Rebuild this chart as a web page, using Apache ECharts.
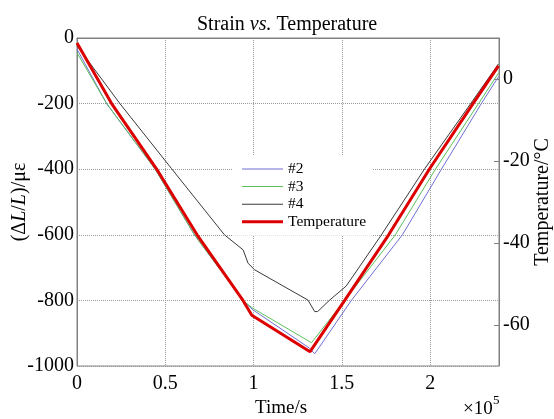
<!DOCTYPE html>
<html>
<head>
<meta charset="utf-8">
<script src="https://cdn.jsdelivr.net/npm/echarts@6/dist/echarts.min.js"></script>
<style>html,body{margin:0;padding:0;background:#fff}#c{width:554px;height:419px}</style>
</head>
<body>
<div id="c"></div>
<script>
// Time in seconds, strain in με, temperature in °C
var seriesNames = ['#2', '#3', '#4', 'Temperature'];

var time2 = [0, 16800, 44300, 66500, 94000, 99700, 131800, 134600, 155400, 184300, 206400, 229000, 238700];
var strain2 = [-34, -200, -400, -600, -800, -829, -946, -963, -800, -600, -400, -200, -118];

var time3 = [0, 16800, 44300, 66500, 94000, 99000, 132800, 151600, 180300, 203000, 227400, 238700];
var strain3 = [-45, -200, -400, -600, -800, -822, -929, -800, -600, -400, -200, -107];

var time4 = [0, 24300, 53500, 83500, 94100, 96900, 100700, 130800, 134600, 136300, 143100, 152500, 172300, 197000, 224000, 238700];
var strain4 = [-24, -200, -398, -600, -646, -687, -707, -799, -834, -834, -799, -756, -601, -398, -192, -79];

var timeT = [0, 19600, 45000, 68000, 94000, 99000, 132000, 151600, 176500, 199700, 224300, 238700];
var tempT = [8.8, -6.0, -21.9, -38.0, -54.0, -57.6, -66.5, -54.0, -38.0, -21.9, -6.0, 3.2];

var rightTicks = [-60, -40, -20, 0];

function pairs(t, v) { return t.map(function (x, i) { return [x, v[i]]; }); }

var FONT = 'Liberation Serif';
var colors = ['#6f6fd6', '#5cbf5c', '#3a3a3a', '#dd0000'];
var widths = [1, 1, 1, 3];

var chart = echarts.init(document.getElementById('c'), null, { renderer: 'canvas' });
chart.setOption({
  animation: false,
  backgroundColor: '#fff',
  textStyle: { fontFamily: FONT },
  title: {
    text: 'Strain {i|vs.} Temperature',
    left: 192, top: 10,
    textStyle: {
      fontFamily: FONT, fontSize: 20, fontWeight: 'normal', color: '#000',
      rich: { i: { fontFamily: FONT, fontSize: 20, fontStyle: 'italic', color: '#000' } }
    }
  },
  grid: { left: 77, right: 55, top: 38, bottom: 53, containLabel: false, outerBoundsMode: 'none',
    show: true, borderColor: '#808080', borderWidth: 1, backgroundColor: 'transparent' },
  legend: {
    orient: 'vertical', left: 233, top: 155,
    padding: [6, 6, 6, 9], itemGap: 1.6, itemWidth: 41, itemHeight: 18,
    backgroundColor: '#fff',
    data: seriesNames.map(function (n, i) {
      return { name: n, icon: 'path://M0,0H41V' + widths[i] + 'H0Z', itemStyle: { color: colors[i] } };
    }),
    textStyle: { fontFamily: FONT, fontSize: 15.5, color: '#000' }
  },
  xAxis: {
    type: 'value', min: 0, max: 239000, interval: 50000,
    name: 'Time/s', nameLocation: 'middle', nameGap: 33, nameMoveOverlap: false,
    nameTextStyle: { fontFamily: FONT, fontSize: 19, color: '#000', padding: [0, 14, 0, 0] },
    axisLine: { show: true, lineStyle: { color: '#808080' } },
    axisTick: { show: false },
    axisLabel: {
      fontFamily: FONT, fontSize: 20, color: '#000', margin: 8, showMaxLabel: false,
      formatter: function (v) { return String(v / 100000); }
    },
    splitLine: { show: true, lineStyle: { type: 'dotted', color: '#9a9a9a', width: 1 } }
  },
  yAxis: [{
    type: 'value', min: -1000, max: 0, interval: 200, position: 'left',
    name: '(Δ{i|L}/{i|L})/με', nameLocation: 'middle', nameGap: 47, nameMoveOverlap: false,
    nameTextStyle: {
      fontFamily: FONT, fontSize: 20, color: '#000',
      rich: { i: { fontFamily: FONT, fontSize: 20, fontStyle: 'italic', color: '#000' } }
    },
    axisLine: { show: true, lineStyle: { color: '#808080' } },
    axisTick: { show: false },
    axisLabel: { fontFamily: FONT, fontSize: 20, color: '#000', margin: 3,
      formatter: function (v) { return String(v); } },
    splitLine: { show: true, lineStyle: { type: 'dotted', color: '#9a9a9a', width: 1 } }
  }, {
    type: 'value', min: -70, max: 10, interval: 10, position: 'right',
    name: 'Temperature/°C', nameLocation: 'middle', nameGap: 34, nameMoveOverlap: false,
    nameTextStyle: { fontFamily: FONT, fontSize: 20, color: '#000' },
    axisLine: { show: true, lineStyle: { color: '#808080' } },
    axisTick: { show: true, inside: true, length: 5, customValues: rightTicks, lineStyle: { color: '#808080' } },
    axisLabel: { fontFamily: FONT, fontSize: 20, color: '#000', margin: 4, customValues: rightTicks,
      formatter: function (v) { return String(v); } },
    splitLine: { show: false }
  }],
  series: seriesNames.map(function (n, i) {
    var d = [pairs(time2, strain2), pairs(time3, strain3), pairs(time4, strain4), pairs(timeT, tempT)][i];
    return {
      name: n, type: 'line', yAxisIndex: i === 3 ? 1 : 0, symbol: 'none', data: d,
      lineStyle: { color: colors[i], width: widths[i] }, itemStyle: { color: colors[i] }
    };
  }),
  graphic: [
    { type: 'text', left: 463, top: 400, style: { text: '×10', font: '19px "Liberation Serif"', fill: '#000' } },
    { type: 'text', left: 493, top: 394, style: { text: '5', font: '13px "Liberation Serif"', fill: '#000' } }
  ]
});
</script>
</body>
</html>
